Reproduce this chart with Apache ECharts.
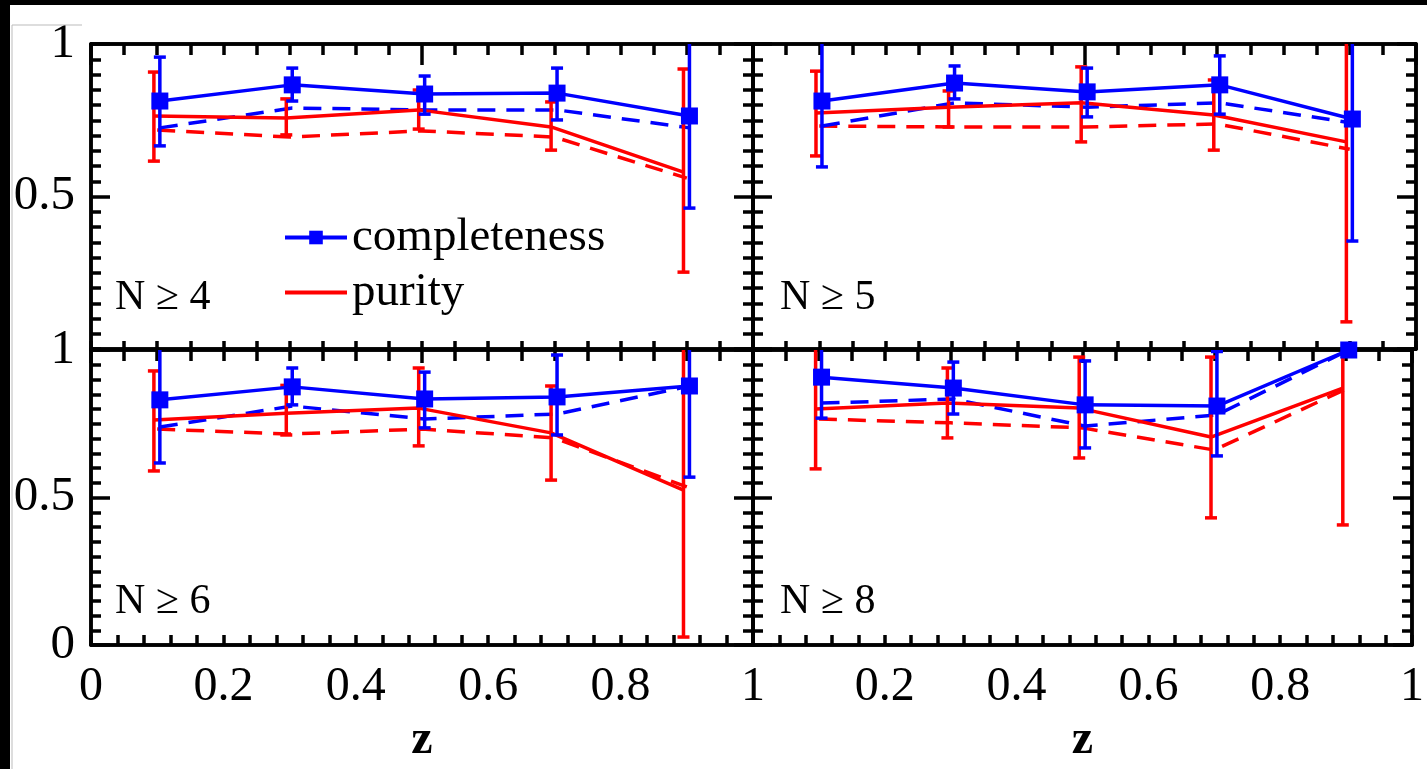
<!DOCTYPE html>
<html>
<head>
<meta charset="utf-8">
<script src="https://cdn.jsdelivr.net/npm/echarts@6/dist/echarts.min.js"></script>
<style>
html,body{margin:0;padding:0;background:#fff;}
#chart{width:1427px;height:769px;}
</style>
</head>
<body>
<div id="chart"></div>
<script>
// ---- data ----
const zBins = [0.1, 0.3, 0.5, 0.7, 0.9];
const panelTitles = ['N \u2265 4', 'N \u2265 5', 'N \u2265 6', 'N \u2265 8'];
const xTickLabels = ['0', '0.2', '0.4', '0.6', '0.8', '1'];
const yTickLabels = ['0', '0.5', '1'];

// one row per panel: N>=4, N>=5, N>=6, N>=8
const completeness = [
  [0.813, 0.866, 0.836, 0.839, 0.764],
  [0.813, 0.872, 0.843, 0.866, 0.754],
  [0.831, 0.875, 0.834, 0.841, 0.878],
  [0.908, 0.871, 0.814, 0.810, 1.000]
];
const completenessLow = [
  [0.666, 0.813, 0.770, 0.751, 0.462],
  [0.597, 0.820, 0.761, 0.770, 0.354],
  [0.617, 0.814, 0.736, 0.712, 0.569],
  [0.769, 0.783, 0.668, 0.641, 1.000]
];
const completenessHigh = [
  [0.957, 0.921, 0.895, 0.921, 1.05],
  [1.05, 0.928, 0.921, 0.961, 1.05],
  [1.05, 0.939, 0.925, 0.983, 1.05],
  [1.05, 0.959, 0.963, 0.995, 1.000]
];
const purity = [
  [0.764, 0.757, 0.784, 0.728, 0.580],
  [0.774, 0.793, 0.807, 0.767, 0.679],
  [0.763, 0.786, 0.803, 0.719, 0.525],
  [0.800, 0.820, 0.803, 0.705, 0.871]
];
const purityLow = [
  [0.616, 0.702, 0.721, 0.652, 0.252],
  [0.633, 0.728, 0.679, 0.652, 0.089],
  [0.590, 0.712, 0.675, 0.559, 0.027],
  [0.597, 0.702, 0.634, 0.431, 0.407]
];
const purityHigh = [
  [0.908, 0.820, 0.849, 0.810, 0.918],
  [0.911, 0.846, 0.925, 0.882, 1.05],
  [0.929, 0.880, 0.939, 0.878, 1.05],
  [1.05, 0.939, 0.976, 0.976, 1.05]
];
const completenessDashed = [
  [0.725, 0.790, 0.784, 0.784, 0.725],
  [0.731, 0.807, 0.793, 0.807, 0.741],
  [0.739, 0.810, 0.766, 0.783, 0.878],
  [0.820, 0.834, 0.742, 0.780, 1.000]
];
const purityDashed = [
  [0.718, 0.695, 0.715, 0.695, 0.560],
  [0.731, 0.728, 0.728, 0.738, 0.655],
  [0.732, 0.715, 0.732, 0.702, 0.536],
  [0.766, 0.753, 0.736, 0.661, 0.868]
];
const blueShift = 0.004, redShift = -0.005;

// ---- styling ----
const BLUE = '#0000ff', RED = '#ff0000', BLACK = '#000';
const FONT = '"Liberation Serif", "DejaVu Serif", serif';

const grids = [
  {left: 91,  top: 44,  width: 662, height: 305},
  {left: 753, top: 44,  width: 663, height: 305},
  {left: 91,  top: 350, width: 662, height: 295},
  {left: 753, top: 350, width: 663, height: 295}
];

const xAxes = [], yAxes = [], series = [];

function errRender(params, api) {
  const x = api.value(0), lo = api.value(1), hi = api.value(2);
  const a = api.coord([x, lo]), b = api.coord([x, hi]);
  const c = 6;
  const st = {stroke: api.visual('color'), lineWidth: 3.5};
  return {type: 'group', children: [
    {type: 'line', shape: {x1: a[0], y1: a[1], x2: b[0], y2: b[1]}, style: st},
    {type: 'line', shape: {x1: a[0] - c, y1: a[1], x2: a[0] + c, y2: a[1]}, style: st},
    {type: 'line', shape: {x1: b[0] - c, y1: b[1], x2: b[0] + c, y2: b[1]}, style: st}
  ]};
}

function tickAxis(base, interval, len, label) {
  return Object.assign({
    type: 'value', min: 0, max: 1, interval: interval,
    axisLine: {show: true, onZero: false, lineStyle: {color: BLACK, width: 3.5}},
    axisTick: {show: len > 0, inside: true, length: len, lineStyle: {color: BLACK, width: 3.5}},
    axisLabel: label || {show: false},
    splitLine: {show: false}
  }, base);
}

grids.forEach((g, i) => {
  const isBottom = i >= 2, isLeft = (i % 2) === 0;
  const xi = xAxes.length, yi = yAxes.length;
  // x axes: bottom short ticks (used by series), bottom labels, top short ticks, top long ticks
  xAxes.push(tickAxis({gridIndex: i, position: 'bottom'}, isBottom ? 0.04 : 0.05, isBottom ? 10 : 8));
  xAxes.push(tickAxis({
    gridIndex: i, position: 'bottom',
    name: isBottom ? 'z' : '', nameLocation: 'middle', nameGap: 72,
    nameTextStyle: {color: BLACK, fontFamily: FONT, fontSize: 48, fontWeight: 'bold'}
  }, 0.2, 0, {
    show: isBottom, margin: 18, color: BLACK, fontFamily: FONT, fontSize: 48,
    showMinLabel: isLeft,
    formatter: (v) => xTickLabels[Math.round(v / 0.2)]
  }));
  xAxes.push(tickAxis({gridIndex: i, position: 'top'}, 0.05, 11));
  xAxes.push(tickAxis({gridIndex: i, position: 'top'}, 0.5, isBottom ? 13 : 21));
  // y axes: left short ticks (used by series), left long ticks + labels, right short, right long
  yAxes.push(tickAxis({gridIndex: i, position: 'left'}, 0.05, 10));
  yAxes.push(tickAxis({gridIndex: i, position: 'left'}, 0.5, 19, {
    show: isLeft, margin: 16, color: BLACK, fontFamily: FONT, fontSize: 49,
    showMinLabel: isBottom,
    formatter: (v) => yTickLabels[Math.round(v / 0.5)]
  }));
  yAxes.push(tickAxis({gridIndex: i, position: 'right'}, 0.05, 10));
  yAxes.push(tickAxis({gridIndex: i, position: 'right'}, 0.5, 19));

  const pts = (arr, shift) => zBins.map((z, k) => [z + shift, arr[i][k]]);
  const errs = (lo, hi, shift) => zBins.map((z, k) => [z + shift, lo[i][k], hi[i][k]]);

  series.push({
    type: 'line', name: 'purity dashed', xAxisIndex: xi, yAxisIndex: yi,
    data: pts(purityDashed, 0), symbol: 'none', color: RED,
    lineStyle: {color: RED, width: 3.5, type: [18, 11]}, z: 2, silent: true
  });
  series.push({
    type: 'line', name: 'completeness dashed', xAxisIndex: xi, yAxisIndex: yi,
    data: pts(completenessDashed, blueShift), symbol: 'none', color: BLUE,
    lineStyle: {color: BLUE, width: 3.5, type: [18, 11]}, z: 2, silent: true
  });
  series.push({
    type: 'custom', name: 'purity err', xAxisIndex: xi, yAxisIndex: yi,
    data: errs(purityLow, purityHigh, redShift), renderItem: errRender,
    itemStyle: {color: RED}, color: RED, clip: true, z: 3, silent: true
  });
  series.push({
    type: 'line', name: 'purity', xAxisIndex: xi, yAxisIndex: yi,
    data: pts(purity, redShift), symbol: 'none', color: RED,
    lineStyle: {color: RED, width: 3.5}, z: 4, silent: true
  });
  series.push({
    type: 'custom', name: 'completeness err', xAxisIndex: xi, yAxisIndex: yi,
    data: errs(completenessLow, completenessHigh, blueShift), renderItem: errRender,
    itemStyle: {color: BLUE}, color: BLUE, clip: true, z: 5, silent: true
  });
  series.push({
    type: 'line', name: 'completeness', xAxisIndex: xi, yAxisIndex: yi,
    data: pts(completeness, blueShift), symbol: 'rect', symbolSize: 17, color: BLUE,
    itemStyle: {color: BLUE}, lineStyle: {color: BLUE, width: 3.5}, z: 6, silent: true,
    clip: false
  });
});

const panelLabelPos = [[115, 298], [780, 298], [115, 602], [780, 602]];

const option = {
  backgroundColor: '#fff',
  animation: false,
  grid: grids.map(g => Object.assign({containLabel: false, show: false}, g)),
  xAxis: xAxes,
  yAxis: yAxes,
  legend: {
    data: [
      {name: 'completeness'},
      {name: 'purity', itemStyle: {opacity: 0}}
    ],
    orient: 'vertical', left: 283, top: 214,
    itemWidth: 62, itemHeight: 17, itemGap: 8,
    padding: 0,
    lineStyle: {width: 4},
    textStyle: {color: BLACK, fontFamily: FONT, fontSize: 47, lineHeight: 47},
    selectedMode: false
  },
  series: series,
  graphic: [
    {type: 'rect', left: 0, top: 0, shape: {width: 10, height: 769}, style: {fill: BLACK}, z: 100},
    {type: 'rect', left: 0, top: 0, shape: {width: 1427, height: 5}, style: {fill: BLACK}, z: 100},
    {type: 'line', shape: {x1: 12, y1: 25, x2: 12, y2: 769}, style: {stroke: '#bbb', lineWidth: 1}, z: 100},
    {type: 'line', shape: {x1: 12, y1: 25, x2: 82, y2: 25}, style: {stroke: '#bbb', lineWidth: 1}, z: 100}
  ].concat(panelTitles.map((t, i) => ({
    type: 'text', x: panelLabelPos[i][0], y: panelLabelPos[i][1], z: 100,
    style: {text: t, fill: BLACK, font: '42px ' + FONT, textVerticalAlign: 'middle', verticalAlign: 'middle'}
  })))
};

const chart = echarts.init(document.getElementById('chart'), null, {renderer: 'canvas'});
chart.setOption(option);
</script>
</body>
</html>
